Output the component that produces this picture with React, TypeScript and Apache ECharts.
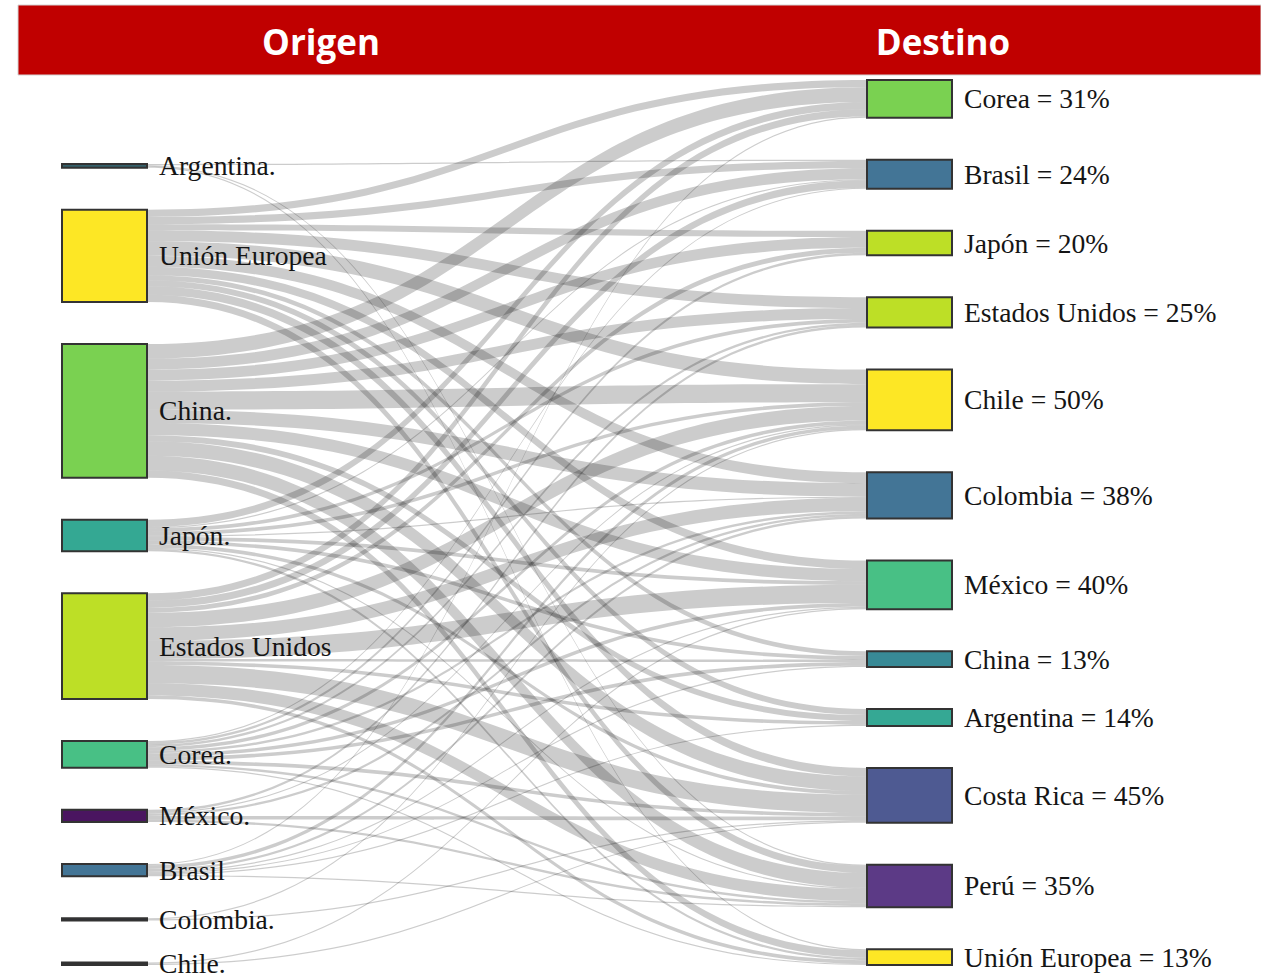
import React, { useEffect, useRef } from "react";
import * as echarts from "echarts";

const origins = ["Argentina.", "Unión Europea", "China.", "Japón.", "Estados Unidos", "Corea.", "México.", "Brasil", "Colombia.", "Chile."];
const originColors = ["#35606a", "#fde725", "#7ad151", "#34a893", "#bddf26", "#48c085", "#4a1560", "#437596", "#2b2b3b", "#333333"];

const destinations = ["Corea", "Brasil", "Japón", "Estados Unidos", "Chile", "Colombia", "México", "China", "Argentina", "Costa Rica", "Perú", "Unión Europea"];
const destinationPct = [31, 24, 20, 25, 50, 38, 40, 13, 14, 45, 35, 13];
const destColors = ["#7ad151", "#437596", "#bddf26", "#bddf26", "#fde725", "#437596", "#48c085", "#388a96", "#35a894", "#4e5a92", "#5c3a86", "#fde725"];

// flows[origin][destination]
// cols: Corea, Brasil, Japón, EEUU, Chile, Colombia, México, China, Argentina, Costa Rica, Perú, UE
const flows = [
  [0, 1, 0, 0, 0, 0, 0, 0, 0, 0, 1, 1],
  [6, 6, 5, 9, 12, 9, 7, 4, 5, 7, 6, 0],
  [12, 9, 9, 9, 15, 11, 10, 0, 5, 12, 12, 6],
  [6, 1, 0, 3, 3, 1, 3, 3, 0, 3, 1, 2],
  [6, 6, 4, 0, 12, 11, 15, 2, 3, 15, 10, 3],
  [0, 1, 2, 2, 3, 2, 3, 3, 0, 3, 2, 1],
  [0, 0, 0, 2, 1, 2, 0, 0, 0, 3, 2, 0],
  [1, 0, 0, 0, 3, 2, 1, 1, 1, 0, 1, 0],
  [0, 0, 0, 0, 1, 0, 0, 0, 0, 1, 0, 0],
  [0, 0, 0, 0, 0, 0, 1, 0, 0, 1, 0, 0],
];

const headerTitles = ["Origen", "Destino"];
const SPACER_VALUE = 34.55;

export default function App() {
  const ref = useRef<HTMLDivElement>(null);
  useEffect(() => {
    if (!ref.current) return;
    const chart = echarts.init(ref.current, undefined, { renderer: "svg" });
    const destNames = destinations.map((d, i) => `${d} = ${destinationPct[i]}%`);
    const nodes: any[] = [
      {
        name: "__spacer__",
        value: SPACER_VALUE,
        itemStyle: { color: "rgba(0,0,0,0)", borderWidth: 0 },
        label: { show: false },
      },
      ...origins.map((o, i) => ({ name: o, itemStyle: { color: originColors[i] } })),
      ...destNames.map((d, i) => ({ name: d, itemStyle: { color: destColors[i] } })),
    ];
    const links: any[] = [];
    flows.forEach((row, i) => {
      row.forEach((v, j) => {
        if (v > 0) links.push({ source: origins[i], target: destNames[j], value: v });
      });
    });
    chart.setOption({
      animation: false,
      backgroundColor: "#ffffff",
      graphic: [
        {
          type: "rect",
          shape: { x: 18, y: 5, width: 1243, height: 70 },
          style: { fill: "#c00000", stroke: "#d4d4d4", lineWidth: 1 },
          silent: true,
        },
        {
          type: "text",
          x: 321,
          y: 41,
          style: {
            text: headerTitles[0],
            fill: "#ffffff",
            font: "bold 35px 'Open Sans', sans-serif",
            align: "center",
            verticalAlign: "middle",
          },
          silent: true,
        },
        {
          type: "text",
          x: 943,
          y: 41,
          style: {
            text: headerTitles[1],
            fill: "#ffffff",
            font: "bold 35px 'Open Sans', sans-serif",
            align: "center",
            verticalAlign: "middle",
          },
          silent: true,
        },
      ],
      series: [
        {
          type: "sankey",
          left: 62,
          top: 80,
          right: 309,
          bottom: 9,
          nodeWidth: 85,
          nodeGap: 42,
          nodeAlign: "left",
          layoutIterations: 0,
          draggable: false,
          emphasis: { disabled: true },
          data: nodes,
          links: links,
          itemStyle: { borderColor: "#333333", borderWidth: 2 },
          lineStyle: { color: "#000000", opacity: 0.2, curveness: 0.5 },
          label: {
            show: true,
            position: "right",
            distance: 11,
            color: "#151515",
            fontSize: 27.6,
            fontFamily: "'Liberation Serif', 'Times New Roman', serif",
          },
        },
      ],
    });
    return () => chart.dispose();
  }, []);
  return (
    <div
      ref={ref}
      style={{ position: "fixed", left: 0, top: 0, width: "1261px", height: "974px", background: "#fff" }}
    />
  );
}
